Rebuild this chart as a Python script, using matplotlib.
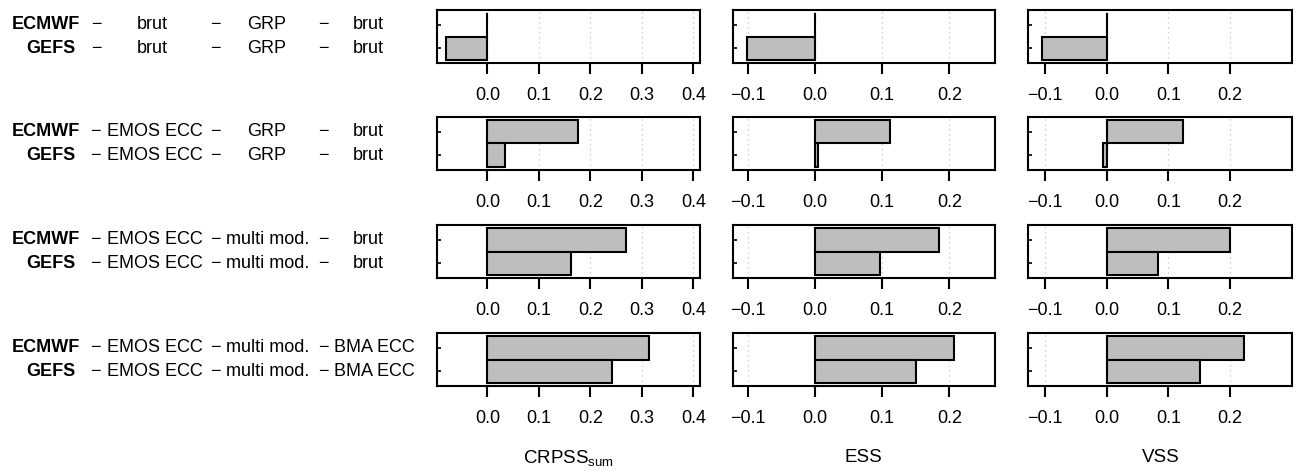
import matplotlib
matplotlib.use("Agg")
import matplotlib.pyplot as plt
from matplotlib.transforms import blended_transform_factory

plt.rcParams["font.family"] = ["Liberation Sans", "DejaVu Sans"]
plt.rcParams["mathtext.fontset"] = "custom"
plt.rcParams["mathtext.rm"] = "Liberation Sans"
plt.rcParams["mathtext.it"] = "Liberation Sans:italic"

# ---- data -----------------------------------------------------------------
models = ["ECMWF", "GEFS"]
step_pp = ["brut", "EMOS ECC", "EMOS ECC", "EMOS ECC"]
step_comb = ["GRP", "GRP", "multi mod.", "multi mod."]
step_final = ["brut", "brut", "brut", "BMA ECC"]

# skill scores per configuration row: [ECMWF, GEFS]
crpss_sum = [[0.0, -0.080], [0.175, 0.035], [0.270, 0.163], [0.314, 0.242]]
ess = [[0.0, -0.101], [0.111, 0.004], [0.184, 0.097], [0.207, 0.150]]
vss = [[0.0, -0.105], [0.124, -0.006], [0.200, 0.083], [0.223, 0.152]]

score_names = [r"$\mathrm{CRPSS}_{\mathrm{sum}}$", "ESS", "VSS"]
score_values = [crpss_sum, ess, vss]
score_ticks = [[0.0, 0.1, 0.2, 0.3, 0.4],
               [-0.1, 0.0, 0.1, 0.2],
               [-0.1, 0.0, 0.1, 0.2]]
tick_labels = [["0.0", "0.1", "0.2", "0.3", "0.4"],
               ["\u22120.1", "0.0", "0.1", "0.2"],
               ["\u22120.1", "0.0", "0.1", "0.2"]]

# ---- layout ---------------------------------------------------------------
W, H = 1300, 472
fig = plt.figure(figsize=(W / 100, H / 100), dpi=100)

col_left = [437, 732.7, 1028.3]
col_width = [263, 262.3, 264]
row_top = [10, 117, 225, 333]
row_h = 53
xlims = [(-0.098, 0.413), (-0.1224, 0.268), (-0.127, 0.301)]

bar_y = [1.5, 0.5]  # ECMWF on top, GEFS below

axes = []
for r in range(4):
    row_axes = []
    for c in range(3):
        ax = fig.add_axes([col_left[c] / W, 1 - (row_top[r] + row_h) / H,
                           col_width[c] / W, row_h / H])
        vals = score_values[c][r]
        ax.barh(bar_y, vals, height=1.0, color="#BEBEBE",
                edgecolor="black", linewidth=1.5, zorder=3)
        ax.set_xlim(*xlims[c])
        ax.set_ylim(-0.14, 2.14)
        ax.set_xticks(score_ticks[c])
        ax.set_xticklabels(tick_labels[c])
        ax.set_yticks(bar_y)
        ax.set_yticklabels([])
        ax.tick_params(axis="x", direction="out", length=8, width=1.5,
                       pad=9, labelsize=13)
        ax.tick_params(axis="y", direction="in", length=3, width=1.2)
        ax.grid(axis="x", linestyle=(0, (1, 3)), color="#C4C4C4",
                linewidth=0.9, zorder=0)
        ax.set_axisbelow(True)
        for sp in ax.spines.values():
            sp.set_linewidth(1.5)
        row_axes.append(ax)
    axes.append(row_axes)

# ---- configuration labels on the left --------------------------------------
name_left = {"ECMWF": 11.7, "GEFS": 26}
pp_left = [137, 107, 107, 107]
dash1_left = [91, 90, 90, 90]
dash2_left = [210, 210, 210, 210]
comb_left = [247, 247, 226, 226]
dash3_left = [318, 318, 318, 318]
final_left = [353, 353, 353, 334]

fs = 13
for r in range(4):
    tr = blended_transform_factory(fig.transFigure, axes[r][0].transData)
    for m, y in zip(models, bar_y):
        kw = dict(transform=tr, va="center", ha="left", fontsize=fs)
        fig.text(name_left[m] / W, y, m, fontweight="bold", **kw)
        fig.text(dash1_left[r] / W, y, "\u2212", **kw)
        fig.text(pp_left[r] / W, y, step_pp[r], **kw)
        fig.text(dash2_left[r] / W, y, "\u2212", **kw)
        fig.text(comb_left[r] / W, y, step_comb[r], **kw)
        fig.text(dash3_left[r] / W, y, "\u2212", **kw)
        fig.text(final_left[r] / W, y, step_final[r], **kw)

# ---- score names under each column ----------------------------------------
for c in range(3):
    xc = (col_left[c] + col_width[c] / 2) / W
    fig.text(xc, 1 - 458 / H, score_names[c], ha="center", va="center",
             fontsize=13.5)

fig.savefig("out.png", dpi=100)
